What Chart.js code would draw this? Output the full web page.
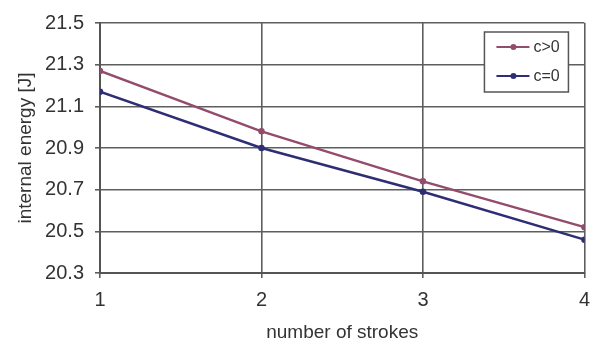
<!DOCTYPE html>
<html>
<head>
<meta charset="utf-8">
<script src="https://cdn.jsdelivr.net/npm/chart.js@4/dist/chart.umd.min.js"></script>
<style>
  html, body { margin: 0; padding: 0; background: #fff; }
  #wrap { position: relative; width: 600px; height: 345px; }
</style>
</head>
<body>
<div id="wrap"><canvas id="c" width="600" height="345"></canvas></div>
<script>
// Internal energy versus number of strokes, for c>0 and c=0
const strokes = [1, 2, 3, 4];
const energyCPositive = [21.27, 20.98, 20.74, 20.52];
const energyCZero = [21.17, 20.90, 20.69, 20.46];
const seriesLabels = ['c>0', 'c=0'];
const xTitle = 'number of strokes';
const yTitle = 'internal energy [J]';

const toPoints = (ys) => strokes.map((x, i) => ({ x: x, y: ys[i] }));

const FONT = 'Liberation Sans, Arial, sans-serif';
const gridColor = '#5e5e5e';

// Boxed legend drawn in the upper-right corner of the plot area
const insetLegend = {
  id: 'insetLegend',
  afterDatasetsDraw(chart) {
    const { ctx, chartArea } = chart;
    const w = 84, h = 60;
    const x0 = chartArea.right - 100, y0 = chartArea.top + 9;
    ctx.save();
    ctx.fillStyle = '#fff';
    ctx.fillRect(x0, y0, w, h);
    ctx.strokeStyle = '#555';
    ctx.lineWidth = 1.5;
    ctx.strokeRect(x0, y0, w, h);
    chart.data.datasets.forEach((ds, i) => {
      const y = y0 + 15 + i * 29;
      ctx.strokeStyle = ds.borderColor;
      ctx.lineWidth = 2;
      ctx.beginPath();
      ctx.moveTo(x0 + 12, y);
      ctx.lineTo(x0 + 45, y);
      ctx.stroke();
      ctx.fillStyle = ds.borderColor;
      ctx.beginPath();
      ctx.arc(x0 + 29, y, 3, 0, Math.PI * 2);
      ctx.fill();
      ctx.fillStyle = '#333';
      ctx.font = '16px ' + FONT;
      ctx.textBaseline = 'middle';
      ctx.textAlign = 'left';
      ctx.fillText(ds.label, x0 + 49, y + 1);
    });
    ctx.restore();
  }
};

new Chart(document.getElementById('c'), {
  type: 'line',
  data: {
    datasets: [
      {
        label: seriesLabels[0],
        data: toPoints(energyCPositive),
        borderColor: '#934c6c',
        backgroundColor: '#934c6c',
        borderWidth: 2.5,
        pointRadius: 2,
        pointHoverRadius: 2,
        tension: 0
      },
      {
        label: seriesLabels[1],
        data: toPoints(energyCZero),
        borderColor: '#2e2e74',
        backgroundColor: '#2e2e74',
        borderWidth: 2.5,
        pointRadius: 2,
        pointHoverRadius: 2,
        tension: 0
      }
    ]
  },
  options: {
    responsive: false,
    animation: false,
    layout: { padding: { top: 19, right: 9, left: 0, bottom: 0 } },
    plugins: {
      legend: { display: false },
      tooltip: { enabled: false }
    },
    scales: {
      x: {
        type: 'linear',
        min: 1,
        max: 4,
        afterFit(scale) { scale.height = 72; },
        ticks: {
          stepSize: 1,
          color: '#333',
          padding: 10,
          font: { family: FONT, size: 20 }
        },
        grid: { color: gridColor, lineWidth: 1.6, tickLength: 5 },
        border: { color: '#555', width: 2 },
        title: {
          display: true,
          text: xTitle,
          color: '#333',
          font: { family: FONT, size: 19 },
          padding: { top: 0, bottom: 1 }
        }
      },
      y: {
        min: 20.3,
        max: 21.5,
        afterFit(scale) { scale.width = 100; },
        ticks: {
          stepSize: 0.2,
          color: '#333',
          padding: 11,
          font: { family: FONT, size: 20 },
          callback: (v) => v.toFixed(1)
        },
        grid: { color: gridColor, lineWidth: 1.6, tickLength: 5 },
        border: { color: '#555', width: 2 },
        title: {
          display: true,
          text: yTitle,
          color: '#333',
          font: { family: FONT, size: 19 },
          padding: { top: 14, bottom: 0 }
        }
      }
    }
  },
  plugins: [insetLegend]
});
</script>
</body>
</html>
